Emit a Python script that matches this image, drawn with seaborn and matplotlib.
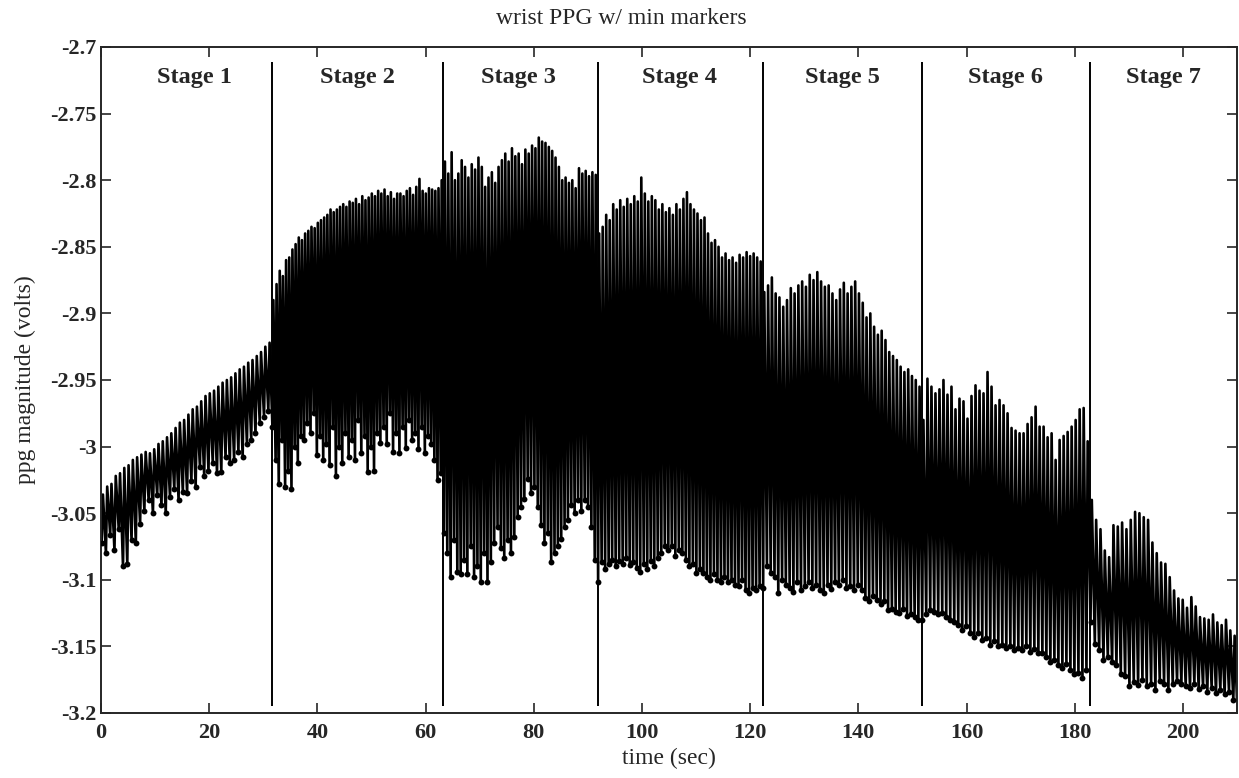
import numpy as np
import pandas as pd
import matplotlib
matplotlib.use("Agg")
import matplotlib.pyplot as plt
import seaborn as sns

# ---------------- data ----------------
stage_names = ["Stage 1", "Stage 2", "Stage 3", "Stage 4", "Stage 5", "Stage 6", "Stage 7"]
stage_bounds = [0.0, 31.6, 63.3, 91.8, 122.3, 151.7, 182.8, 210.0]
stage_label_x = [17.2, 47.4, 77.2, 107.0, 137.0, 167.2, 196.4]

# per-beat peak and trough (min marker) values, volts
peaks1 = [-3.036, -3.030, -3.028, -3.022, -3.020, -3.016, -3.014, -3.010, -3.008, -3.006,
          -3.004, -3.005, -3.002, -2.998, -2.996, -2.993, -2.990, -2.986, -2.982, -2.980,
          -2.976, -2.972, -2.970, -2.966, -2.962, -2.960, -2.958, -2.955, -2.952, -2.950,
          -2.948, -2.945, -2.942, -2.940, -2.937, -2.935, -2.932, -2.929, -2.925, -2.922]
troughs1 = [-3.072, -3.080, -3.066, -3.078, -3.062, -3.090, -3.088, -3.070, -3.072, -3.058,
            -3.048, -3.040, -3.050, -3.036, -3.044, -3.050, -3.038, -3.032, -3.040, -3.034,
            -3.035, -3.026, -3.030, -3.015, -3.022, -3.018, -3.012, -3.020, -3.019, -3.008,
            -3.012, -3.010, -3.004, -3.008, -2.998, -2.995, -2.990, -2.982, -2.978, -2.973]

peaks2 = [-2.890, -2.878, -2.868, -2.872, -2.860, -2.858, -2.852, -2.848, -2.843, -2.845,
          -2.840, -2.838, -2.835, -2.836, -2.832, -2.830, -2.828, -2.826, -2.822, -2.824,
          -2.822, -2.820, -2.818, -2.820, -2.816, -2.817, -2.814, -2.818, -2.812, -2.815,
          -2.813, -2.810, -2.812, -2.808, -2.810, -2.807, -2.812, -2.809, -2.814, -2.810,
          -2.810, -2.812, -2.808, -2.806, -2.811, -2.805, -2.799, -2.808, -2.810, -2.806,
          -2.807, -2.808, -2.806, -2.800]
troughs2 = [-2.985, -3.010, -3.028, -2.995, -3.030, -3.018, -3.032, -3.000, -3.012, -2.992,
            -2.995, -2.982, -2.990, -2.975, -3.006, -2.992, -3.010, -2.998, -3.014, -2.985,
            -3.022, -3.000, -3.012, -2.990, -3.008, -2.995, -3.010, -2.980, -3.005, -2.992,
            -3.019, -3.000, -3.018, -2.990, -2.997, -2.985, -2.998, -2.975, -3.004, -2.990,
            -3.005, -2.985, -3.001, -2.980, -2.995, -2.990, -3.002, -2.985, -3.005, -2.992,
            -2.998, -3.010, -3.025, -3.020]

peaks3 = [-2.786, -2.795, -2.779, -2.800, -2.795, -2.785, -2.790, -2.798, -2.788, -2.792,
          -2.783, -2.790, -2.805, -2.798, -2.794, -2.802, -2.790, -2.785, -2.780, -2.786,
          -2.776, -2.782, -2.780, -2.788, -2.777, -2.780, -2.774, -2.776, -2.768, -2.771,
          -2.772, -2.775, -2.778, -2.783, -2.790, -2.800, -2.798, -2.802, -2.800, -2.806,
          -2.791, -2.795, -2.793, -2.797, -2.794, -2.796]
troughs3 = [-3.065, -3.080, -3.098, -3.070, -3.094, -3.096, -3.085, -3.096, -3.075, -3.098,
            -3.090, -3.102, -3.080, -3.102, -3.087, -3.072, -3.060, -3.076, -3.084, -3.070,
            -3.080, -3.068, -3.053, -3.045, -3.039, -3.024, -3.035, -3.030, -3.045, -3.059,
            -3.072, -3.065, -3.087, -3.080, -3.075, -3.069, -3.060, -3.055, -3.044, -3.050,
            -3.040, -3.048, -3.040, -3.045, -3.060, -3.085]

peaks4 = [-2.840, -2.835, -2.826, -2.830, -2.818, -2.822, -2.815, -2.820, -2.814, -2.818,
          -2.812, -2.816, -2.798, -2.810, -2.816, -2.812, -2.815, -2.822, -2.818, -2.824,
          -2.821, -2.826, -2.818, -2.822, -2.814, -2.809, -2.818, -2.822, -2.825, -2.830,
          -2.828, -2.840, -2.847, -2.845, -2.850, -2.858, -2.855, -2.860, -2.858, -2.862,
          -2.856, -2.858, -2.854, -2.857, -2.855, -2.858, -2.861]
troughs4 = [-3.102, -3.087, -3.092, -3.088, -3.085, -3.090, -3.086, -3.088, -3.084, -3.089,
            -3.087, -3.091, -3.094, -3.088, -3.092, -3.086, -3.090, -3.084, -3.080, -3.075,
            -3.078, -3.075, -3.082, -3.078, -3.080, -3.085, -3.090, -3.088, -3.095, -3.092,
            -3.095, -3.098, -3.100, -3.096, -3.100, -3.102, -3.098, -3.102, -3.100, -3.104,
            -3.105, -3.100, -3.108, -3.110, -3.106, -3.108, -3.105]

peaks5 = [-2.884, -2.879, -2.873, -2.885, -2.888, -2.895, -2.890, -2.881, -2.885, -2.879,
          -2.876, -2.880, -2.871, -2.875, -2.869, -2.876, -2.880, -2.879, -2.885, -2.890,
          -2.882, -2.877, -2.885, -2.880, -2.876, -2.885, -2.892, -2.903, -2.900, -2.910,
          -2.916, -2.913, -2.920, -2.929, -2.932, -2.935, -2.940, -2.944, -2.942, -2.947,
          -2.950, -2.955]
troughs5 = [-3.106, -3.090, -3.095, -3.098, -3.110, -3.100, -3.104, -3.106, -3.109, -3.102,
            -3.108, -3.105, -3.102, -3.106, -3.104, -3.108, -3.110, -3.104, -3.107, -3.102,
            -3.104, -3.100, -3.106, -3.105, -3.108, -3.104, -3.108, -3.114, -3.116, -3.112,
            -3.115, -3.118, -3.116, -3.123, -3.122, -3.124, -3.125, -3.122, -3.127, -3.126,
            -3.128, -3.130]

peaks6 = [-2.980, -2.949, -2.955, -2.960, -2.957, -2.950, -2.961, -2.955, -2.972, -2.964,
          -2.966, -2.979, -2.962, -2.954, -2.958, -2.960, -2.944, -2.955, -2.969, -2.965,
          -2.969, -2.975, -2.986, -2.988, -2.990, -2.990, -2.983, -2.978, -2.970, -2.985,
          -2.985, -2.993, -2.990, -3.010, -2.995, -2.992, -2.989, -2.985, -2.980, -2.972,
          -2.971, -2.996]
troughs6 = [-3.130, -3.126, -3.123, -3.124, -3.126, -3.125, -3.128, -3.130, -3.132, -3.134,
            -3.138, -3.135, -3.140, -3.143, -3.140, -3.145, -3.144, -3.149, -3.146, -3.150,
            -3.149, -3.151, -3.150, -3.153, -3.151, -3.153, -3.150, -3.154, -3.152, -3.155,
            -3.155, -3.158, -3.162, -3.160, -3.164, -3.166, -3.163, -3.168, -3.171, -3.170,
            -3.174, -3.168]

peaks7 = [-3.040, -3.055, -3.062, -3.078, -3.083, -3.059, -3.060, -3.057, -3.062, -3.055,
          -3.049, -3.050, -3.053, -3.055, -3.072, -3.080, -3.087, -3.088, -3.098, -3.108,
          -3.114, -3.115, -3.121, -3.113, -3.120, -3.128, -3.129, -3.130, -3.126, -3.132,
          -3.134, -3.130, -3.138, -3.142]
troughs7 = [-3.132, -3.148, -3.153, -3.160, -3.158, -3.162, -3.164, -3.171, -3.172, -3.180,
            -3.177, -3.179, -3.175, -3.180, -3.178, -3.183, -3.176, -3.178, -3.183, -3.178,
            -3.176, -3.178, -3.180, -3.181, -3.178, -3.182, -3.180, -3.184, -3.181, -3.185,
            -3.183, -3.186, -3.184, -3.190]

stage_peaks = [peaks1, peaks2, peaks3, peaks4, peaks5, peaks6, peaks7]
stage_troughs = [troughs1, troughs2, troughs3, troughs4, troughs5, troughs6, troughs7]

xticks = [0, 20, 40, 60, 80, 100, 120, 140, 160, 180, 200]
yticks = [-2.7, -2.75, -2.8, -2.85, -2.9, -2.95, -3.0, -3.05, -3.1, -3.15, -3.2]
ytick_labels = ["-2.7", "-2.75", "-2.8", "-2.85", "-2.9", "-2.95", "-3", "-3.05", "-3.1", "-3.15", "-3.2"]

# ---------------- build signal table ----------------
sig_t, sig_v, min_t, min_v = [], [], [], []
for k in range(7):
    t0, t1 = stage_bounds[k], stage_bounds[k + 1]
    pk, tr = stage_peaks[k], stage_troughs[k]
    n = len(pk)
    T = (t1 - t0) / n
    for i in range(n):
        tt = t0 + T * i + 0.15 * T
        sig_t += [tt, tt + 0.3 * T]
        sig_v += [tr[i], pk[i]]
        min_t.append(tt)
        min_v.append(tr[i])
sig_t.append(210.0)
sig_v.append(-3.19)
signal = pd.DataFrame({"time": sig_t, "ppg": sig_v})
minima = pd.DataFrame({"time": min_t, "ppg": min_v})

# ---------------- plot ----------------
sns.set_style("ticks")
plt.rcParams["font.family"] = ["Liberation Serif", "DejaVu Serif"]
plt.rcParams["xtick.direction"] = "in"
plt.rcParams["ytick.direction"] = "in"

fig = plt.figure(figsize=(12.39, 7.78), dpi=100)
ax = fig.add_axes([101 / 1239, 1 - 713 / 778, (1237 - 101) / 1239, (713 - 47) / 778])

sns.lineplot(data=signal, x="time", y="ppg", sort=False, estimator=None,
             color="black", linewidth=1.9, ax=ax)
sns.scatterplot(data=minima, x="time", y="ppg", color="black", s=18,
                edgecolor="black", linewidth=0, ax=ax, zorder=3)

for b in stage_bounds[1:-1]:
    ax.vlines(b, -3.195, -2.711, color="black", linewidth=1.4)
for name, xl in zip(stage_names, stage_label_x):
    ax.text(xl, -2.723, name, ha="center", va="center", fontsize=17.5, fontweight="bold")

ax.set_xlim(0, 210)
ax.set_ylim(-3.2, -2.7)
ax.set_xticks(xticks)
ax.set_yticks(yticks)
ax.set_yticklabels(ytick_labels)
ax.tick_params(axis="both", which="both", top=True, right=True, length=7,
               width=1.2, labelsize=16)
ax.tick_params(axis="x", pad=7)
ax.tick_params(axis="y", pad=3)
for lab in ax.get_xticklabels() + ax.get_yticklabels():
    lab.set_fontweight("bold")
for sp in ax.spines.values():
    sp.set_linewidth(1.4)
    sp.set_visible(True)

ax.set_xlabel("time (sec)", fontsize=17, labelpad=4)
ax.set_ylabel("ppg magnitude (volts)", fontsize=17, labelpad=10)
fig.text(621 / 1239, 1 - 18 / 778, "wrist PPG w/ min markers", ha="center", va="center", fontsize=17)

fig.savefig("out.png", dpi=100)
